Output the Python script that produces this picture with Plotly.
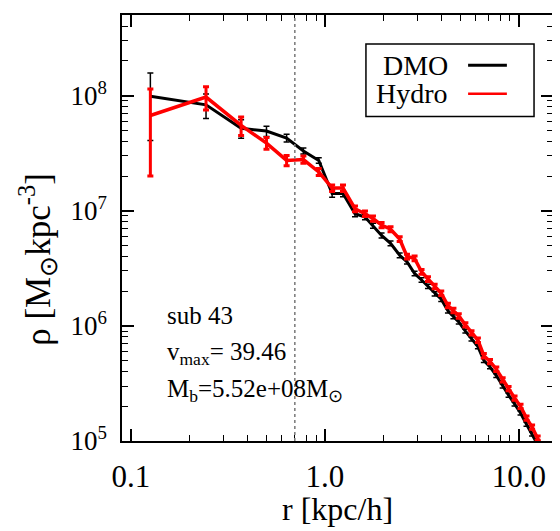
"density profile chart: DMO vs Hydro for sub 43."

import plotly.graph_objects as go

# radial bins [kpc/h]
r_kpc = [0.126, 0.244, 0.37, 0.50, 0.635, 0.775, 0.93, 1.09, 1.24, 1.43,
         1.61, 1.77, 1.96, 2.18, 2.43, 2.65, 2.90, 3.15, 3.40, 3.68,
         3.98, 4.31, 4.60, 4.90, 5.30, 5.70, 6.15, 6.60, 7.10, 7.65,
         8.25, 8.85, 9.5, 10.2, 10.95, 11.7, 12.5, 13.4]

# DMO density and errors
rho_dmo = [9.86e7, 8.3e7, 5.2e7, 4.91e7, 4.27e7, 3.3e7, 2.73e7, 1.41e7, 1.41e7, 9.4e6,
           8.8e6, 7.4e6, 6.1e6, 5.2e6, 4.1e6, 3.6e6, 2.85e6, 2.5e6, 2.2e6, 1.9e6,
           1.7e6, 1.35e6, 1.2e6, 1.08e6, 9.0e5, 7.7e5, 6.6e5, 5.0e5, 4.4e5, 3.7e5,
           3.0e5, 2.5e5, 2.1e5, 1.75e5, 1.4e5, 1.15e5, 9.3e4, 7.5e4]
err_dmo = [5.8e7, 2.0e7, 0.95e7, 0.5e7, 0.33e7, 0.2e7, 0.15e7, 0.1e7, 0.09e7, 5.5e5,
           4.8e5, 3.8e5, 3.0e5, 2.5e5, 1.9e5, 1.6e5, 1.25e5, 1.1e5, 9.5e4, 8.0e4,
           7.0e4, 5.5e4, 4.8e4, 4.3e4, 3.5e4, 3.0e4, 2.6e4, 2.0e4, 1.7e4, 1.4e4,
           1.2e4, 1.0e4, 8.5e3, 7.0e3, 5.6e3, 4.6e3, 3.8e3, 3.0e3]

# Hydro density and errors
rho_hydro = [6.7e7, 9.7e7, 5.5e7, 3.86e7, 2.73e7, 2.78e7, 2.17e7, 1.57e7, 1.57e7, 1.04e7,
             9.4e6, 8.55e6, 7.5e6, 6.9e6, 5.67e6, 4.0e6, 3.85e6, 2.95e6, 2.55e6, 2.2e6,
             1.92e6, 1.5e6, 1.36e6, 1.22e6, 1.02e6, 8.7e5, 7.5e5, 5.5e5, 4.9e5, 4.2e5,
             3.4e5, 2.85e5, 2.36e5, 2.0e5, 1.58e5, 1.32e5, 1.06e5, 8.3e4]
err_hydro = [4.7e7, 2.2e7, 1.0e7, 0.45e7, 0.28e7, 0.2e7, 0.15e7, 0.1e7, 0.1e7, 6.0e5,
             5.2e5, 4.5e5, 3.8e5, 3.4e5, 2.7e5, 1.9e5, 1.8e5, 1.4e5, 1.2e5, 1.0e5,
             8.8e4, 6.8e4, 6.0e4, 5.4e4, 4.5e4, 3.8e4, 3.3e4, 2.4e4, 2.1e4, 1.8e4,
             1.5e4, 1.2e4, 1.0e4, 8.5e3, 6.7e3, 5.6e3, 4.5e3, 3.5e3]

r_vline = 0.7

x_ticks = [0.1, 1.0, 10.0]
x_ticktext = ["0.1", "1.0", "10.0"]
x_minor = [0.2, 0.3, 0.4, 0.5, 0.6, 0.7, 0.8, 0.9, 2, 3, 4, 5, 6, 7, 8, 9]
y_ticks = [1e5, 1e6, 1e7, 1e8]
y_ticktext = ["10<sup>5</sup>", "10<sup>6</sup>", "10<sup>7</sup>", "10<sup>8</sup>"]
y_minor = [m * 10**e for e in (5, 6, 7) for m in range(2, 10)] + [2e8, 3e8, 4e8]

FONT = "Liberation Serif, Times New Roman, serif"

fig = go.Figure()
fig.add_scatter(
    x=r_kpc,
    y=rho_dmo,
    mode="lines",
    line={"color": "black", "width": 3},
    error_y={"type": "data", "array": err_dmo, "color": "black",
             "thickness": 1.5, "width": 3},
    showlegend=False,
)
fig.add_scatter(
    x=r_kpc,
    y=rho_hydro,
    mode="lines",
    line={"color": "red", "width": 3.5},
    error_y={"type": "data", "array": err_hydro, "color": "red",
             "thickness": 3, "width": 3},
    showlegend=False,
)

# dotted vertical line
fig.add_shape(type="line", xref="x", yref="y domain", x0=r_vline, x1=r_vline,
              y0=0, y1=1, line={"color": "#808080", "width": 1.6, "dash": "dot"})

# legend box drawn by hand (text left, line sample right)
fig.add_shape(type="rect", xref="paper", yref="paper", x0=0.566, x1=0.956,
              y0=0.762, y1=0.932, line={"color": "black", "width": 1.5},
              fillcolor="white")
fig.add_shape(type="line", xref="paper", yref="paper", x0=0.803, x1=0.893,
              y0=0.882, y1=0.882, line={"color": "black", "width": 3})
fig.add_shape(type="line", xref="paper", yref="paper", x0=0.803, x1=0.893,
              y0=0.815, y1=0.815, line={"color": "red", "width": 2.5})
for label, ypos in (("DMO", 0.882), ("Hydro", 0.815)):
    fig.add_annotation(text=label, xref="paper", yref="paper", x=0.761, y=ypos,
                       xanchor="right", yanchor="middle", showarrow=False,
                       font={"size": 28, "color": "black", "family": FONT})

# info text
info = ["sub 43", "v<sub>max</sub>= 39.46", "M<sub>b</sub>=5.52e+08M<sub>⊙</sub>"]
for text, ypos in zip(info, (0.294, 0.206, 0.119)):
    fig.add_annotation(text=text, xref="paper", yref="paper", x=0.10, y=ypos,
                       xanchor="left", yanchor="middle", showarrow=False,
                       font={"size": 25, "color": "black", "family": FONT})

# axis titles
fig.add_annotation(text="ρ [M<sub>⊙</sub>kpc<sup>-3</sup>]", xref="paper", yref="paper",
                   x=-0.195, y=0.4276, xanchor="center", yanchor="middle",
                   textangle=-90, showarrow=False,
                   font={"size": 35, "color": "black", "family": FONT})
fig.add_annotation(text="r [kpc/h]", xref="paper", yref="paper",
                   x=0.5, y=-0.159, xanchor="center", yanchor="middle",
                   showarrow=False,
                   font={"size": 32, "color": "black", "family": FONT})

axis_common = dict(
    type="log",
    showline=True,
    linecolor="black",
    linewidth=1.5,
    mirror="ticks",
    ticks="inside",
    ticklen=12,
    tickwidth=1.5,
    tickcolor="black",
    showgrid=False,
    zeroline=False,
)

fig.update_xaxes(
    **axis_common,
    range=[-1.0458, 1.176],
    tickmode="array",
    tickvals=x_ticks,
    ticktext=x_ticktext,
    tickfont={"size": 31, "color": "black", "family": FONT},
    ticklabelstandoff=7,
    minor={"tickmode": "array", "tickvals": x_minor, "ticks": "inside",
           "ticklen": 6, "tickwidth": 1.2, "tickcolor": "black"},
)
fig.update_yaxes(
    **axis_common,
    range=[5, 8.699],
    tickmode="array",
    tickvals=y_ticks,
    ticktext=y_ticktext,
    tickfont={"size": 27, "color": "black", "family": FONT},
    ticklabelstandoff=8,
    minor={"tickmode": "array", "tickvals": y_minor, "ticks": "inside",
           "ticklen": 6, "tickwidth": 1.2, "tickcolor": "black"},
)

# the page body adds an 8px margin, so the figure is 8px smaller on the
# top/left to keep the plot area where the reference has it
fig.update_layout(
    width=552,
    height=523,
    margin={"l": 114, "r": 7, "t": 5, "b": 90},
    plot_bgcolor="white",
    paper_bgcolor="white",
    font={"family": FONT, "color": "black"},
)

fig.write_html("out.html")
